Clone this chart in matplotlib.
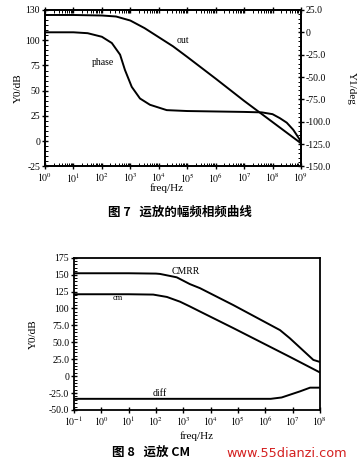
import numpy as np
import matplotlib
matplotlib.use("Agg")
import matplotlib.pyplot as plt
from matplotlib.ticker import FixedLocator, LogLocator, NullFormatter

plt.rcParams['font.family'] = ['Liberation Serif', 'Noto Sans CJK SC', 'DejaVu Sans']
plt.rcParams['mathtext.fontset'] = 'stix'

# ---------------- Figure 7 data ----------------
out_exp = [0, 1, 2, 2.5, 3, 3.5, 4, 4.5, 5, 6, 7, 8, 9]
out_db = [125, 125, 124.5, 123.5, 119.5, 112, 103, 94, 83.5, 62, 40, 19, -2]

phase_exp = [0, 1, 1.5, 2, 2.35, 2.64, 2.81, 3.05, 3.34, 3.69, 4.28, 5, 6, 7, 7.62, 8, 8.26, 8.5, 8.73, 9]
phase_deg = [0, 0, -1, -5, -12, -25, -42, -61, -74, -81, -87, -88, -88.5, -89, -89.5, -91.5, -96, -101, -109, -122]

top_xtick_exp = list(range(0, 10))
top_left_ticks = [-25, 0, 25, 50, 75, 100, 130]
top_left_labels = ['-25', '0', '25', '50', '75', '100', '130']
top_right_ticks = [25, 0, -25, -50, -75, -100, -125, -150]
top_right_labels = ['25.0', '0', '-25.0', '-50.0', '-75.0', '-100.0', '-125.0', '-150.0']

# ---------------- Figure 8 data ----------------
cmrr_exp = [-1, 0, 1, 2, 2.15, 2.76, 3.24, 3.61, 4.83, 6.54, 6.9, 7.76, 8]
cmrr_db = [152, 152, 152, 151.5, 151, 146, 136, 130, 105, 68, 56, 24, 21]

cm_exp = [-1, 0, 1, 1.9, 2.4, 2.88, 3.24, 3.61, 4.83, 6.9, 8]
cm_db = [121, 121, 121, 120.5, 117, 110, 103, 95.5, 71, 28.5, 5.5]

diff_exp = [-1, 6.2, 6.6, 7.27, 7.64, 8]
diff_db = [-33.5, -33.5, -31.5, -22.5, -17, -17]

bot_xtick_exp = list(range(-1, 9))
bot_yticks = [175, 150, 125, 100, 75, 50, 25, 0, -25, -50]
bot_ylabels = ['175', '150', '125', '100', '75.0', '50.0', '25.0', '0', '-25.0', '-50.0']

fig = plt.figure(figsize=(3.6, 4.73), dpi=100)
fig.patch.set_facecolor('white')

LW = 1.4
FS = 7

def style_axes(ax):
    for s in ax.spines.values():
        s.set_linewidth(1.3)
    ax.tick_params(which='major', direction='inout', length=4, width=1, labelsize=FS, pad=1.5)
    ax.tick_params(which='minor', direction='in', length=2, width=0.7)

# ---------------- Figure 7 ----------------
ax1 = fig.add_axes([0.125, 0.648, 0.711, 0.331])
ax1.set_xscale('log')
ax1.plot(10.0 ** np.array(out_exp), out_db, color='black', lw=LW)
ax1.set_xlim(10.0 ** top_xtick_exp[0], 10.0 ** top_xtick_exp[-1])
ax1.set_ylim(-25, 130)
ax1.xaxis.set_major_locator(FixedLocator([10.0 ** e for e in top_xtick_exp]))
ax1.set_xticklabels([r'$10^{%d}$' % e for e in top_xtick_exp])
ax1.xaxis.set_minor_locator(LogLocator(base=10, subs=np.arange(2, 10), numticks=20))
ax1.xaxis.set_minor_formatter(NullFormatter())
ax1.set_yticks(top_left_ticks)
ax1.set_yticklabels(top_left_labels)
ax1.yaxis.set_minor_locator(FixedLocator(np.arange(-25, 131, 5)))
ax1.set_ylabel('Y0/dB', fontsize=FS + 1, labelpad=2)
ax1.set_xlabel('freq/Hz', fontsize=FS + 1, labelpad=0)
ax1.xaxis.set_label_coords(0.475, -0.11)
style_axes(ax1)
ax1.tick_params(top=True, which='both')

ax1r = ax1.twinx()
ax1r.plot(10.0 ** np.array(phase_exp), phase_deg, color='black', lw=LW)
ax1r.set_ylim(-150, 25)
ax1r.set_yticks(top_right_ticks)
ax1r.set_yticklabels(top_right_labels)
ax1r.yaxis.set_minor_locator(FixedLocator(np.arange(-150, 26, 5)))
ax1r.set_ylabel('Y1/deg', fontsize=FS + 1, rotation=270, labelpad=18)
style_axes(ax1r)

ax1.text(10.0 ** 4.64, 100, 'out', fontsize=FS, ha='left', va='center')
ax1.text(10.0 ** 1.65, 78, 'phase', fontsize=FS, ha='left', va='center')

fig.text(0.5, 1 - 212 / 473, '图 7   运放的幅频相频曲线', ha='center', va='center',
         fontsize=9, fontweight='bold', family=['Noto Sans CJK SC', 'DejaVu Sans'])

# ---------------- Figure 8 ----------------
ax2 = fig.add_axes([0.2056, 0.1332, 0.683, 0.322])
ax2.set_xscale('log')
ax2.plot(10.0 ** np.array(cmrr_exp), cmrr_db, color='black', lw=LW)
ax2.plot(10.0 ** np.array(cm_exp), cm_db, color='black', lw=LW)
ax2.plot(10.0 ** np.array(diff_exp), diff_db, color='black', lw=LW)
ax2.set_xlim(10.0 ** bot_xtick_exp[0], 10.0 ** bot_xtick_exp[-1])
ax2.set_ylim(-50, 175)
ax2.xaxis.set_major_locator(FixedLocator([10.0 ** e for e in bot_xtick_exp]))
ax2.set_xticklabels([r'$10^{%d}$' % e for e in bot_xtick_exp])
ax2.xaxis.set_minor_formatter(NullFormatter())
ax2.xaxis.set_minor_locator(FixedLocator([]))
ax2.set_yticks(bot_yticks)
ax2.set_yticklabels(bot_ylabels)
ax2.yaxis.set_minor_locator(FixedLocator(np.arange(-50, 176, 5)))
ax2.set_ylabel('Y0/dB', fontsize=FS + 1, labelpad=8)
ax2.set_xlabel('freq/Hz', fontsize=FS + 1, labelpad=2)
style_axes(ax2)

ax2.text(10.0 ** 2.59, 154, 'CMRR', fontsize=FS, ha='left', va='center')
ax2.text(10.0 ** 0.43, 115, 'cm', fontsize=FS - 1, ha='left', va='center')
ax2.text(10.0 ** 1.89, -26, 'diff', fontsize=FS, ha='left', va='center')

fig.text(112 / 360, 1 - 453 / 473, '图 8   运放 CM', ha='left', va='center',
         fontsize=9, fontweight='bold', family=['Noto Sans CJK SC', 'DejaVu Sans'])
fig.text(226 / 360, 1 - 453 / 473, 'www.55dianzi.com', ha='left', va='center',
         fontsize=9.3, color='#d42020', family=['DejaVu Sans'])

fig.savefig('out.png', dpi=100, facecolor='white')
